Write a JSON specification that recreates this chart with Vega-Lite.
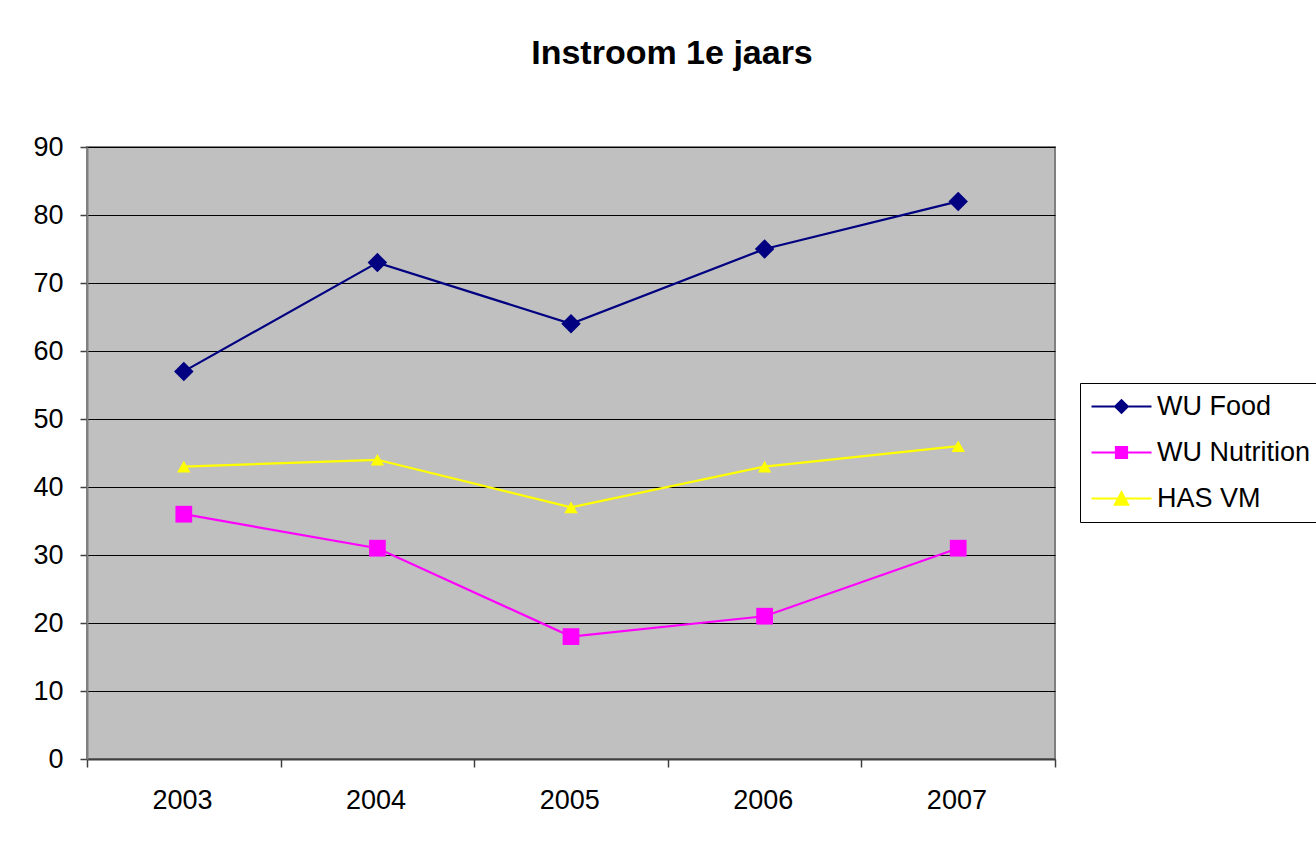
{
  "$schema": "https://vega.github.io/schema/vega-lite/v6.json",
  "autosize": "none",
  "width": 968,
  "height": 612,
  "padding": {"left": 87, "top": 147, "right": 261, "bottom": 83},
  "background": "white",
  "title": {
    "text": "Instroom 1e jaars",
    "font": "Liberation Sans",
    "fontSize": 34,
    "fontWeight": "bold",
    "color": "black",
    "anchor": "middle",
    "frame": "group",
    "baseline": "alphabetic",
    "offset": 35,
    "dx": 101
  },
  "config": {
    "font": "Liberation Sans",
    "view": {"fill": "#c0c0c0", "stroke": "#808080", "strokeWidth": 2},
    "axis": {"labelFont": "Liberation Sans", "labelFontSize": 27, "labelColor": "black"}
  },
  "data": {
    "values": [
      {"year": 2003, "series": "WU Food", "value": 57},
      {"year": 2004, "series": "WU Food", "value": 73},
      {"year": 2005, "series": "WU Food", "value": 64},
      {"year": 2006, "series": "WU Food", "value": 75},
      {"year": 2007, "series": "WU Food", "value": 82},
      {"year": 2003, "series": "WU Nutrition", "value": 36},
      {"year": 2004, "series": "WU Nutrition", "value": 31},
      {"year": 2005, "series": "WU Nutrition", "value": 18},
      {"year": 2006, "series": "WU Nutrition", "value": 21},
      {"year": 2007, "series": "WU Nutrition", "value": 31},
      {"year": 2003, "series": "HAS VM", "value": 43},
      {"year": 2004, "series": "HAS VM", "value": 44},
      {"year": 2005, "series": "HAS VM", "value": 37},
      {"year": 2006, "series": "HAS VM", "value": 43},
      {"year": 2007, "series": "HAS VM", "value": 46}
    ]
  },
  "encoding": {
    "x": {
      "field": "year",
      "type": "quantitative",
      "scale": {"domain": [2002.5, 2007.5], "nice": false, "zero": false},
      "axis": {
        "title": null,
        "values": [2002.5, 2003.5, 2004.5, 2005.5, 2006.5, 2007.5],
        "labelExpr": "datum.value < 2007 ? toString(datum.value + 0.5) : ''",
        "labelOffset": 95,
        "labelFlush": false,
        "labelOverlap": false,
        "labelBound": false,
        "labelPadding": 20,
        "grid": false,
        "domainColor": "#404040",
        "domainWidth": 2,
        "tickColor": "#404040",
        "tickWidth": 1.5,
        "tickSize": 8
      }
    },
    "y": {
      "field": "value",
      "type": "quantitative",
      "scale": {"domain": [0, 90], "nice": false},
      "axis": {
        "title": null,
        "values": [0, 10, 20, 30, 40, 50, 60, 70, 80, 90],
        "grid": true,
        "gridColor": "black",
        "gridWidth": 1,
        "gridOpacity": 1,
        "domainColor": "#808080",
        "domainWidth": 2,
        "tickColor": "#404040",
        "tickWidth": 1.5,
        "tickSize": 7,
        "labelPadding": 17
      }
    }
  },
  "resolve": {"scale": {"color": "independent", "shape": "independent"}},
  "layer": [
    {
      "mark": {"type": "line", "strokeWidth": 2.2},
      "encoding": {
        "color": {
          "field": "series",
          "type": "nominal",
          "scale": {"domain": ["WU Food", "WU Nutrition", "HAS VM"], "range": ["#000080", "#ff00ff", "#ffff00"]},
          "legend": null
        }
      }
    },
    {
      "mark": {"type": "point", "filled": true, "opacity": 1},
      "encoding": {
        "color": {
          "field": "series",
          "type": "nominal",
          "scale": {"domain": ["WU Food", "WU Nutrition", "HAS VM"], "range": ["#000080", "#ff00ff", "#ffff00"]},
          "legend": null
        },
        "shape": {
          "field": "series",
          "type": "nominal",
          "scale": {"domain": ["WU Food", "WU Nutrition", "HAS VM"], "range": ["diamond", "square", "triangle-up"]},
          "legend": null
        },
        "size": {
          "field": "series",
          "type": "nominal",
          "scale": {"domain": ["WU Food", "WU Nutrition", "HAS VM"], "range": [380, 180, 420]},
          "legend": null
        }
      }
    },
    {
      "transform": [{"filter": "datum.value < 0"}],
      "mark": {"type": "point", "filled": true, "opacity": 1, "size": 576, "strokeWidth": 0},
      "encoding": {
        "color": {
          "field": "series",
          "type": "nominal",
          "scale": {"domain": ["WU Food", "WU Nutrition", "HAS VM"], "range": ["#000080", "#ff00ff", "#ffff00"]},
          "legend": {
            "title": null,
            "orient": "none",
            "legendX": 993,
            "legendY": 236,
            "padding": 10,
            "strokeColor": "black",
            "fillColor": "white",
            "symbolSize": 576,
            "symbolOpacity": 1,
            "symbolStrokeWidth": 0,
            "symbolOffset": 18,
            "labelOffset": 22,
            "labelFont": "Liberation Sans",
            "labelFontSize": 27,
            "labelColor": "black",
            "rowPadding": 18,
            "labelLimit": 400
          }
        },
        "shape": {
          "field": "series",
          "type": "nominal",
          "scale": {
            "domain": ["WU Food", "WU Nutrition", "HAS VM"],
            "range": [
              "M-2.5,-0.08L2.5,-0.08L2.5,0.08L-2.5,0.08Z M0,-0.65L0.65,0L0,0.65L-0.65,0Z",
              "M-2.5,-0.08L2.5,-0.08L2.5,0.08L-2.5,0.08Z M-0.55,-0.55L0.55,-0.55L0.55,0.55L-0.55,0.55Z",
              "M-2.5,-0.08L2.5,-0.08L2.5,0.08L-2.5,0.08Z M0,-0.7L0.7,0.6L-0.7,0.6Z"
            ]
          }
        }
      }
    }
  ]
}
